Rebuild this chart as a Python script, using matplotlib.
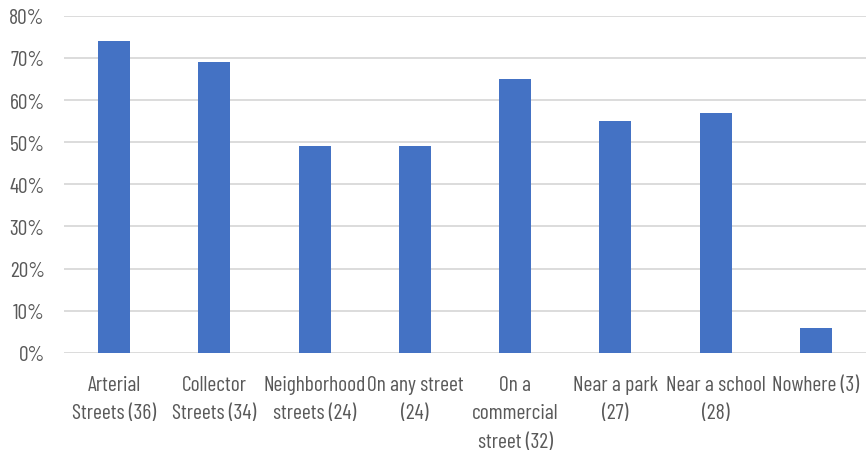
import matplotlib.pyplot as plt
from matplotlib.ticker import PercentFormatter

# Data
categories = ["Arterial\nStreets (36)", "Collector\nStreets (34)", "Neighborhood\nstreets (24)",
              "On any street\n(24)", "On a\ncommercial\nstreet (32)", "Near a park\n(27)",
              "Near a school\n(28)", "Nowhere (3)"]
values = [74, 69, 49, 49, 65, 55, 57, 6]

plt.rcParams['font.family'] = ['Barlow Condensed', 'DejaVu Sans']

fig = plt.figure(figsize=(8.66, 4.56), dpi=100)
ax = fig.add_axes([0.074, 0.224, 0.926, 0.739])

x = range(len(categories))
ax.bar(x, values, width=0.32, color="#4472C4", zorder=3)

ax.set_xlim(-0.5, len(categories) - 0.5)
ax.set_ylim(0, 80)
ax.set_yticks(range(0, 81, 10))
ax.yaxis.set_major_formatter(PercentFormatter(decimals=0))
ax.set_xticks(list(x))
ax.set_xticklabels(categories, linespacing=1.62, va="top")

ax.grid(axis="y", color="#d9d9d9", linewidth=1.3, zorder=0)
for s in ax.spines.values():
    s.set_visible(False)
ax.tick_params(axis="both", length=0, labelsize=15.5, colors="#595959")
ax.tick_params(axis="x", pad=16)
ax.tick_params(axis="y", pad=14)

fig.savefig("out.png", dpi=100)
